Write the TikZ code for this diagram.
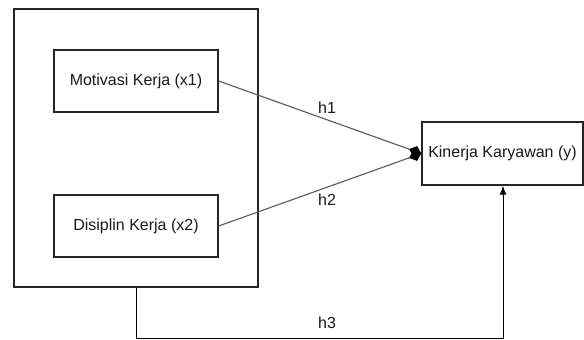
\documentclass[tikz,border=0pt]{standalone}
\usepackage{fontspec}
\setmainfont{Liberation Sans}
\usetikzlibrary{arrows.meta}
\begin{document}
\begin{tikzpicture}[x=1pt,y=-1pt,
  boxs/.style={draw=black!85,line width=1.4pt,inner sep=0pt},
  lbl/.style={font=\fontsize{16}{18}\selectfont,text=black!90},
  conn/.style={draw=black!65,line width=1.1pt},
  tipd/.style={-{Diamond[length=13pt,width=11pt,color=black,fill=black]}}]
\useasboundingbox (0,0) rectangle (584,340);
\fill[white] (0,0) rectangle (584,340);
\node[boxs,minimum width=244pt,minimum height=278pt] (outer) at (136,148) {};
\node[boxs,minimum width=164pt,minimum height=62pt,lbl] (m) at (136,81) {Motivasi Kerja (x1)};
\node[boxs,minimum width=164pt,minimum height=62pt,lbl] (d) at (136,226) {Disiplin Kerja (x2)};
\node[boxs,minimum width=161pt,minimum height=63pt,lbl] (k) at (502.5,153.5) {Kinerja Karyawan (y)};
\coordinate (c1) at (136,338);
\coordinate (c2) at (503,338);
\draw[conn,tipd] (m.east) -- (k.west);
\draw[conn,tipd] (d.east) -- (k.west);
\draw[conn,draw=black,line width=1pt,-{Latex[length=9pt,width=7pt]}] (outer.south) -- (c1) -- (c2) -- (k.south -| c2);
\node[lbl] (h1) at (327,108) {h1};
\node[lbl] (h2) at (327,200) {h2};
\node[lbl] (h3) at (327,323) {h3};
\end{tikzpicture}
\end{document}
